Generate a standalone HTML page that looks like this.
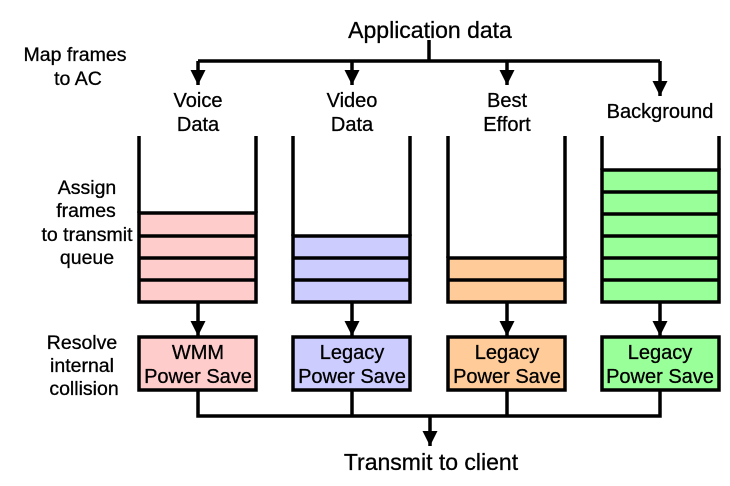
<!DOCTYPE html>
<html><head><style>html,body{margin:0;padding:0;background:#fff}svg{display:block}</style></head>
<body>
<svg width="730" height="486" viewBox="0 0 730 486" xmlns="http://www.w3.org/2000/svg" font-family="Liberation Sans, Arial, sans-serif" fill="#000">
<defs>
<marker id="a" viewBox="0 0 10 10" refX="10" refY="5" markerWidth="4.3" markerHeight="4.3" orient="auto" markerUnits="strokeWidth"><path d="M0,0 L10,5 L0,10 z" fill="#000"/></marker>
</defs>
<g stroke="#000" stroke-width="3.5" fill="none">
<path d="M429,40 V61"/>
<path d="M198,61 H660"/>
<path d="M198,61 V85" marker-end="url(#a)"/>
<path d="M352,61 V85" marker-end="url(#a)"/>
<path d="M507,61 V85" marker-end="url(#a)"/>
<path d="M660,61 V96" marker-end="url(#a)"/>
</g>
<g stroke="#000" stroke-width="3.5">
<rect x="139" y="213" width="117" height="89" fill="#ffcccc"/>
<line x1="139" y1="236" x2="256" y2="236"/><line x1="139" y1="258" x2="256" y2="258"/><line x1="139" y1="280" x2="256" y2="280"/>
<rect x="293" y="236" width="117" height="66" fill="#ccccff"/>
<line x1="293" y1="258" x2="410" y2="258"/><line x1="293" y1="280" x2="410" y2="280"/>
<rect x="448" y="258" width="117" height="44" fill="#ffcc99"/>
<line x1="448" y1="280" x2="565" y2="280"/>
<rect x="602" y="170" width="117" height="132" fill="#99ff99"/>
<line x1="602" y1="192" x2="719" y2="192"/><line x1="602" y1="214" x2="719" y2="214"/><line x1="602" y1="236" x2="719" y2="236"/><line x1="602" y1="258" x2="719" y2="258"/><line x1="602" y1="280" x2="719" y2="280"/>
<line x1="139" y1="136" x2="139" y2="213"/><line x1="256" y1="136" x2="256" y2="213"/>
<line x1="293" y1="136" x2="293" y2="236"/><line x1="410" y1="136" x2="410" y2="236"/>
<line x1="448" y1="136" x2="448" y2="258"/><line x1="565" y1="136" x2="565" y2="258"/>
<line x1="602" y1="136" x2="602" y2="170"/><line x1="719" y1="136" x2="719" y2="170"/>
<rect x="139" y="337" width="117" height="53" fill="#ffcccc"/>
<rect x="293" y="337" width="117" height="53" fill="#ccccff"/>
<rect x="448" y="337" width="117" height="53" fill="#ffcc99"/>
<rect x="602" y="337" width="117" height="53" fill="#99ff99"/>
</g>
<g stroke="#000" stroke-width="3.5" fill="none">
<path d="M198,302 V336" marker-end="url(#a)"/>
<path d="M352,302 V336" marker-end="url(#a)"/>
<path d="M507,302 V336" marker-end="url(#a)"/>
<path d="M660,302 V336" marker-end="url(#a)"/>
<path d="M198,390 V416 H660 V390"/>
<path d="M352,390 V416"/><path d="M507,390 V416"/>
<path d="M430,416 V446" marker-end="url(#a)"/>
</g>
<g stroke="#000" stroke-width="0.3">
<g font-size="23" text-anchor="middle">
<text x="430" y="38">Application data</text>
<text x="431" y="470">Transmit to client</text>
</g>
<g font-size="20" text-anchor="middle">
<text x="198" y="107">Voice</text><text x="198" y="131">Data</text>
<text x="352" y="107">Video</text><text x="352" y="131">Data</text>
<text x="507" y="107">Best</text><text x="507" y="131">Effort</text>
<text x="660" y="118">Background</text>
</g>
<g font-size="19.5" text-anchor="middle">
<text x="75" y="61">Map frames</text><text x="78" y="85">to AC</text>
<text x="87" y="194">Assign</text><text x="86" y="217">frames</text><text x="87" y="241">to transmit</text><text x="87" y="264">queue</text>
<text x="82" y="349">Resolve</text><text x="82" y="372">internal</text><text x="84" y="395">collision</text>
</g>
<g font-size="20" text-anchor="middle">
<text x="198" y="359">WMM</text><text x="198" y="383">Power Save</text>
<text x="352" y="359">Legacy</text><text x="352" y="383">Power Save</text>
<text x="507" y="359">Legacy</text><text x="507" y="383">Power Save</text>
<text x="660" y="359">Legacy</text><text x="660" y="383">Power Save</text>
</g>
</g>
</svg>
</body></html>
